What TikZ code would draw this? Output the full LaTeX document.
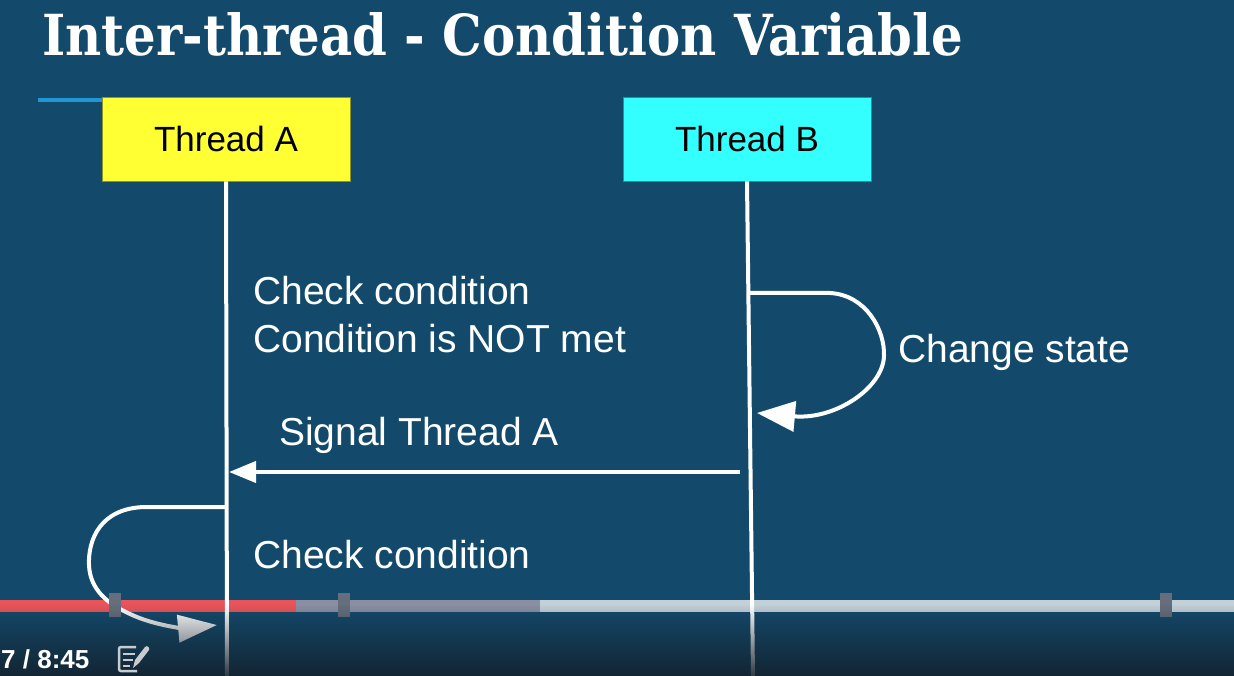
\documentclass[tikz,border=0pt]{standalone}
\usepackage{fontspec}
\setmainfont{Liberation Sans}
\newfontfamily\titlefont{DejaVu Serif}
\usetikzlibrary{arrows.meta,fadings}
\definecolor{bgblue}{RGB}{19,74,107}
\definecolor{darkbottom}{RGB}{20,32,44}
\definecolor{accentblue}{RGB}{33,150,214}
\definecolor{boxyellow}{RGB}{255,255,51}
\definecolor{boxyellowline}{RGB}{140,150,40}
\definecolor{boxcyan}{RGB}{51,255,255}
\definecolor{boxcyanline}{RGB}{30,150,160}
\definecolor{barred}{RGB}{233,84,90}
\definecolor{bargray}{RGB}{138,144,162}
\definecolor{barlight}{RGB}{195,208,216}
\definecolor{barmark}{RGB}{102,110,124}
\definecolor{icongray}{RGB}{200,204,208}
\tikzfading[name=fadedown, top color=transparent!100, bottom color=transparent!12]
\tikzset{
  threadbox/.style={draw, line width=0.8pt, minimum width=248pt, minimum height=84pt,
    inner sep=0pt, font=\fontsize{35}{40}\selectfont, text=black},
  lifeline/.style={draw=white, line width=4pt},
  msg/.style={draw=white, line width=4pt},
  label/.style={anchor=base west, inner sep=0pt, text=white, font=\fontsize{39}{46}\selectfont},
  marker/.style={fill=barmark},
}
\begin{document}
\begin{tikzpicture}[x=1pt,y=-1pt]
\useasboundingbox (0,0) rectangle (1234,676);
\clip (0,0) rectangle (1234,676);
\fill[bgblue] (0,0) rectangle (1234,676);

% title
\node[anchor=north west, inner sep=0pt, text=white] (title) at (42,12)
  {\resizebox{921pt}{43pt}{\titlefont\bfseries Inter-thread - Condition Variable}};
\draw[accentblue, line width=4pt] (38,100) -- (102,100);

% progress bar (under the diagram lines)
\fill[barred] (0,600) rectangle (296,612);
\fill[bargray] (296,600) rectangle (540,612);
\fill[barlight] (540,600) rectangle (1234,612);

% thread boxes
\node[threadbox, fill=boxyellow, draw=boxyellowline] (tA) at (226,139) {Thread A};
\node[threadbox, fill=boxcyan, draw=boxcyanline] (tB) at (747,139) {Thread B};

% lifelines
\coordinate (endA) at (227,676);
\coordinate (endB) at (753,676);
\draw[lifeline] (tA.south) -- (endA);
\draw[lifeline] (tB.south) -- (endB);

% labels
\node[label] (chk1) at (253,305) {Check condition};
\node[label] (notmet) at (253,352) {Condition is NOT met};
\node[label] (chg) at (898,362) {Change state};
\node[label] (sig) at (279,445) {Signal Thread A};
\node[label] (chk2) at (253,568) {Check condition};

% self loop on thread B
\coordinate (bs) at (750,293);
\coordinate (be) at (757,413);
\draw[msg, -{Triangle[length=38pt,width=30pt]}] (bs) -- (830,293)
  .. controls (866,295) and (885,330) .. (884,356)
  .. controls (883,388) and (835,420) .. (be);

% signal
\coordinate (ss) at (740,472);
\coordinate (se) at (229,472);
\draw[msg, -{Triangle[length=27pt,width=21pt]}] (ss) -- (se);

% self loop on thread A
\coordinate (as) at (227,507);
\coordinate (ae) at (217,625);
\draw[msg, -{Triangle[length=39pt,width=27pt]}] (as) -- (145,507)
  .. controls (100,508) and (88,540) .. (89,565)
  .. controls (90,590) and (108,604) .. (130,614)
  .. controls (155,626) and (185,628) .. (ae);

% bar markers
\fill[marker] (109,593) rectangle (121,617);
\fill[marker] (338,593) rectangle (350,617);
\fill[marker] (1160,593) rectangle (1172,617);

% bottom darkening
\fill[darkbottom, path fading=fadedown] (0,604) rectangle (1234,676);

% time and icon
\node[anchor=base west, inner sep=0pt, text=white, font=\fontsize{26}{30}\selectfont\bfseries] (time) at (1,668) {7 / 8:45};
\draw[icongray, line width=2.5pt, rounded corners=2pt] (136,647) -- (119,647) -- (119,671) -- (137,671);
\draw[icongray, line width=2.5pt] (123,654) -- (135,654) (123,660) -- (133,660) (123,666) -- (130,666);
\fill[icongray] (133,668) -- (135,660) -- (145,647) .. controls (147,645) and (150,647) .. (149,650) -- (139,663) -- cycle;
\end{tikzpicture}
\end{document}
